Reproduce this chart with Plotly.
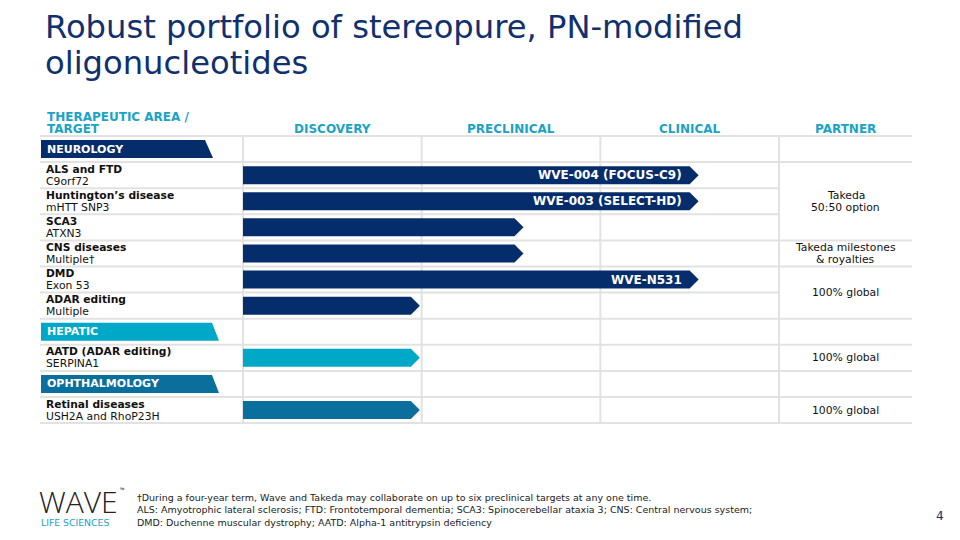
import plotly.graph_objects as go

# ------------------------------------------------------------------ data
title_lines = ["Robust portfolio of stereopure, PN-modified", "oligonucleotides"]
header_left = ["THERAPEUTIC AREA /", "TARGET"]
stages = ["DISCOVERY", "PRECLINICAL", "CLINICAL", "PARTNER"]

areas = ["NEUROLOGY", "HEPATIC", "OPHTHALMOLOGY"]
area_rows = [0, 7, 9]

programs = ["ALS and FTD", "Huntington’s disease", "SCA3", "CNS diseases",
            "DMD", "ADAR editing", "AATD (ADAR editing)", "Retinal diseases"]
targets = ["C9orf72", "mHTT SNP3", "ATXN3", "Multiple†",
           "Exon 53", "Multiple", "SERPINA1", "USH2A and RhoP23H"]
program_rows = [1, 2, 3, 4, 5, 6, 8, 10]
program_area = ["NEUROLOGY"] * 6 + ["HEPATIC", "OPHTHALMOLOGY"]
# progress along the pipeline, in stage units (0 = start of Discovery)
progress = [2.55, 2.55, 1.57, 1.57, 2.55, 0.99, 0.99, 0.99]
bar_labels = ["WVE-004 (FOCUS-C9)", "WVE-003 (SELECT-HD)", "", "",
              "WVE-N531", "", "", ""]

partner_text = [["Takeda", "50:50 option"], ["Takeda milestones", "& royalties"],
                ["100% global"], ["100% global"], ["100% global"]]
partner_rows = [(1, 3), (4, 4), (5, 6), (8, 8), (10, 10)]

footnote = ["†During a four-year term, Wave and Takeda may collaborate on up to six preclinical targets at any one time.",
            "ALS: Amyotrophic lateral sclerosis; FTD: Frontotemporal dementia; SCA3: Spinocerebellar ataxia 3; CNS: Central nervous system;",
            "DMD: Duchenne muscular dystrophy; AATD: Alpha-1 antitrypsin deficiency"]
page_number = "4"

# ------------------------------------------------------------------ style
W, H = 960, 540
X0, XU = 243.0, 178.67      # pixel of stage 0, pixels per stage
Y0, YU = 136.0, 26.1        # pixel of top of table, pixels per row
N_ROWS = 11
FONT = "DejaVu Sans"
TEAL_HDR = "#1ba3c6"
GRID = "#e2e2e2"
area_colors = {"NEUROLOGY": "#062d6b", "HEPATIC": "#00a8c8", "OPHTHALMOLOGY": "#0b6f9d"}
band_right_px = {"NEUROLOGY": (205, 213), "HEPATIC": (212, 219), "OPHTHALMOLOGY": (212, 219)}
LEFT_PX, RIGHT_PX = 40, 912
BAR_H = 18 / YU            # bar height in row units
TIP = 9 / XU               # arrow tip depth in stage units
N_STAGE_COLS = 3
PARTNER_END = (RIGHT_PX - X0) / XU


def xd(px):
    return (px - X0) / XU


def yd(py):
    return (py - Y0) / YU


fig = go.Figure()

# ---------------------------------------------------------------- gridlines
shapes = []
merged = set()
for r0, r1 in partner_rows:
    for r in range(r0 + 1, r1 + 1):
        merged.add(r)
for b in range(N_ROWS + 1):
    x_end = N_STAGE_COLS if b in merged else PARTNER_END
    shapes.append(dict(type="line", xref="x", yref="y", x0=xd(LEFT_PX), x1=x_end,
                       y0=b, y1=b, line=dict(color=GRID, width=2), layer="below"))
for c in range(N_STAGE_COLS + 1):
    shapes.append(dict(type="line", xref="x", yref="y", x0=c, x1=c, y0=0, y1=N_ROWS,
                       line=dict(color=GRID, width=2), layer="below"))

# ---------------------------------------------------------------- area bands
ann = []
for name, row in zip(areas, area_rows):
    top_r, bot_r = band_right_px[name]
    yc = row + 0.5
    y_top, y_bot = yc - BAR_H / 2, yc + BAR_H / 2
    xl = xd(LEFT_PX + 1)
    fig.add_trace(go.Scatter(
        x=[xl, xd(top_r), xd(bot_r), xl, xl], y=[y_top, y_top, y_bot, y_bot, y_top],
        mode="lines", fill="toself", fillcolor=area_colors[name],
        line=dict(width=0), hoverinfo="skip", showlegend=False))
    ann.append(dict(x=xd(45), y=yc, xref="x", yref="y", text=f"<b>{name}</b>",
                    xanchor="left", yanchor="middle", showarrow=False,
                    font=dict(family=FONT, size=11, color="white")))

# ---------------------------------------------------------------- program bars
for name, tgt, row, area, prog, lab in zip(programs, targets, program_rows,
                                           program_area, progress, bar_labels):
    yc = row + 0.5
    y_top, y_bot = yc - BAR_H / 2, yc + BAR_H / 2
    fig.add_trace(go.Scatter(
        x=[0, prog - TIP, prog, prog - TIP, 0, 0],
        y=[y_top, y_top, yc, y_bot, y_bot, y_top],
        mode="lines", fill="toself", fillcolor=area_colors[area],
        line=dict(width=0), hoverinfo="skip", showlegend=False))
    if lab:
        ann.append(dict(x=prog - TIP - 6 / XU, y=yc, xref="x", yref="y",
                        text=f"<b>{lab}</b>", xanchor="right", yanchor="middle",
                        showarrow=False, font=dict(family=FONT, size=12, color="white")))
    ann.append(dict(x=xd(44), y=yc, xref="x", yref="y", text=f"<b>{name}</b>",
                    xanchor="left", yanchor="middle", yshift=6, showarrow=False,
                    font=dict(family=FONT, size=10.7, color="#111111")))
    ann.append(dict(x=xd(44), y=yc, xref="x", yref="y", text=tgt,
                    xanchor="left", yanchor="middle", yshift=-6, showarrow=False,
                    font=dict(family=FONT, size=10.8, color="#111111")))

# ---------------------------------------------------------------- partner text
partner_mid = (N_STAGE_COLS + PARTNER_END) / 2
for lines, (r0, r1) in zip(partner_text, partner_rows):
    yc = (r0 + r1 + 1) / 2
    n = len(lines)
    for i, t in enumerate(lines):
        shift = (n - 1) / 2 * 12 - i * 12
        ann.append(dict(x=partner_mid, y=yc, xref="x", yref="y", text=t,
                        xanchor="center", yanchor="middle", yshift=shift, showarrow=False,
                        font=dict(family=FONT, size=10.8, color="#111111")))

# ---------------------------------------------------------------- headers
for i, t in enumerate(header_left):
    ann.append(dict(x=xd(45), y=yd(129), xref="x", yref="y", text=f"<b>{t}</b>",
                    xanchor="left", yanchor="middle", yshift=12 * (len(header_left) - 1 - i),
                    showarrow=False, font=dict(family=FONT, size=12, color=TEAL_HDR)))
for i, s in enumerate(stages):
    xc = i + 0.5 if i < N_STAGE_COLS else partner_mid
    ann.append(dict(x=xc, y=yd(129), xref="x", yref="y", text=f"<b>{s}</b>",
                    xanchor="center", yanchor="middle", showarrow=False,
                    font=dict(family=FONT, size=12, color=TEAL_HDR)))

# ---------------------------------------------------------------- title, footer
for i, t in enumerate(title_lines):
    ann.append(dict(x=43 / W, y=1 - (27 + 36 * i) / H, xref="paper", yref="paper", text=t,
                    xanchor="left", yanchor="middle", showarrow=False,
                    font=dict(family=FONT, size=32.2, color="#10306e")))
for i, t in enumerate(footnote):
    ann.append(dict(x=135 / W, y=1 - (497 + 12.8 * i) / H, xref="paper", yref="paper", text=t,
                    xanchor="left", yanchor="middle", showarrow=False,
                    font=dict(family=FONT, size=9.5, color="#222222")))
ann.append(dict(x=37 / W, y=1 - 501 / H, xref="paper", yref="paper", text="WAVE",
                xanchor="left", yanchor="middle", showarrow=False,
                font=dict(family="Open Sans", size=30, color="#222222", weight=300)))
ann.append(dict(x=118 / W, y=1 - 490 / H, xref="paper", yref="paper", text="™",
                xanchor="left", yanchor="middle", showarrow=False,
                font=dict(family="Open Sans", size=6, color="#2b2b2b")))
ann.append(dict(x=39 / W, y=1 - 522 / H, xref="paper", yref="paper", text="LIFE SCIENCES",
                xanchor="left", yanchor="middle", showarrow=False,
                font=dict(family=FONT, size=9.3, color=TEAL_HDR)))
ann.append(dict(x=940 / W, y=1 - 516 / H, xref="paper", yref="paper", text=page_number,
                xanchor="center", yanchor="middle", showarrow=False,
                font=dict(family=FONT, size=12, color="#10306e")))

fig.update_layout(
    width=W, height=H, margin=dict(l=0, r=0, t=0, b=0),
    paper_bgcolor="white", plot_bgcolor="white",
    xaxis=dict(range=[xd(0), xd(W)], visible=False, fixedrange=True),
    yaxis=dict(range=[yd(H), yd(0)], visible=False, fixedrange=True),
    shapes=shapes, annotations=ann, showlegend=False,
)
fig.write_html("out.html", config={"displayModeBar": False},
               post_script="document.body.style.margin='0';document.body.style.overflow='hidden';")
